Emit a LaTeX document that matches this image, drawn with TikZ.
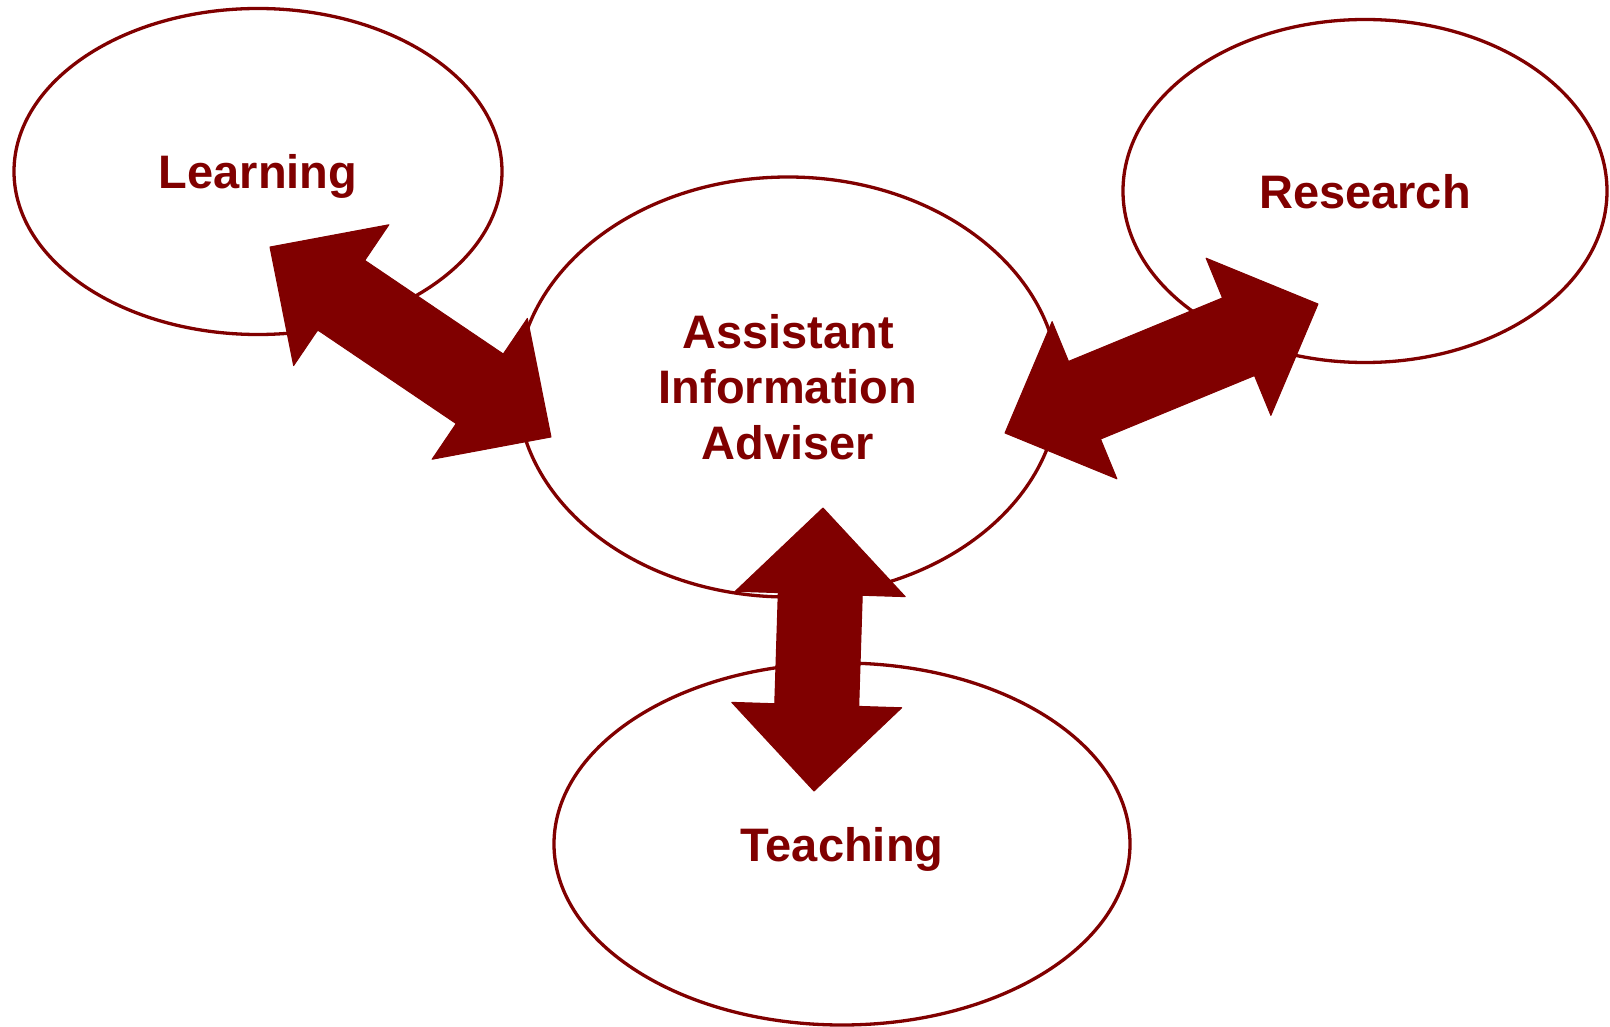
\documentclass[tikz,border=0pt]{standalone}
\usepackage{fontspec}
\setmainfont{Liberation Sans}
\usepackage{tikz}
\usetikzlibrary{shapes,calc}
\definecolor{maroon}{RGB}{128,0,0}

% double block arrow between two named tips
\newcommand{\bigarrow}[2]{%
\fill [maroon, draw=maroon, line width=1pt, line join=round] (#1)
  -- ($($(#1)!86pt!(#2)$)!85pt!90:(#2)$)
  -- ($($(#1)!86pt!(#2)$)!42pt!90:(#2)$)
  -- ($($(#2)!86pt!(#1)$)!42pt!-90:(#1)$)
  -- ($($(#2)!86pt!(#1)$)!85pt!-90:(#1)$)
  -- (#2)
  -- ($($(#2)!86pt!(#1)$)!85pt!90:(#1)$)
  -- ($($(#2)!86pt!(#1)$)!42pt!90:(#1)$)
  -- ($($(#1)!86pt!(#2)$)!42pt!-90:(#2)$)
  -- ($($(#1)!86pt!(#2)$)!85pt!-90:(#2)$)
  -- cycle;}

\begin{document}
\begin{tikzpicture}[x=1pt, y=-1pt,
  bubble/.style={ellipse, draw=maroon, line width=3.3pt, inner sep=0pt,
    text=maroon, font=\fontsize{47}{55.5}\selectfont\bfseries},
  oneline/.style={bubble, text depth=0pt}]
\useasboundingbox (0,0) rectangle (1610,1027);

\node [oneline, minimum width=488, minimum height=326] (learning) at (258,171.5) {Learning};
\node [oneline, minimum width=484, minimum height=343] (research) at (1365,191) {Research};
\node [oneline, minimum width=576, minimum height=362] (teaching) at (842,844) {Teaching};
\node [bubble, align=center, minimum width=542, minimum height=420] (aia) at (788,387)
  {Assistant\\Information\\Adviser};

\coordinate (learntip) at (270,247);
\coordinate (aialeft) at (551,437);
\coordinate (aiaright) at (1005,433);
\coordinate (researchtip) at (1318,304);
\coordinate (aiadown) at (823,508);
\coordinate (teachtip) at (814,791);

\bigarrow{learntip}{aialeft}
\bigarrow{aiaright}{researchtip}
\bigarrow{aiadown}{teachtip}
\end{tikzpicture}
\end{document}
